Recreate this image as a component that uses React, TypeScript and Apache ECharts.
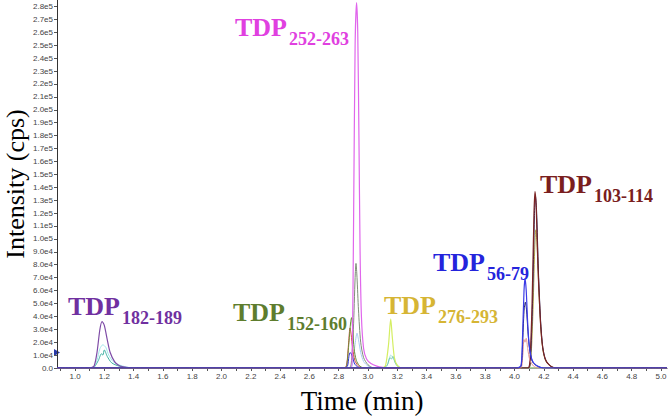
import React, { useEffect, useRef } from "react";
import * as echarts from "echarts";

// Tick values
const xTickLabels = [1.0, 1.2, 1.4, 1.6, 1.8, 2.0, 2.2, 2.4, 2.6, 2.8, 3.0, 3.2, 3.4, 3.6, 3.8, 4.0, 4.2, 4.4, 4.6, 4.8, 5.0];
const xMinorTicks = [0.9, 1.0, 1.1, 1.2, 1.3, 1.4, 1.5, 1.6, 1.7, 1.8, 1.9, 2.0, 2.1, 2.2, 2.3, 2.4, 2.5, 2.6, 2.7, 2.8, 2.9, 3.0, 3.1, 3.2, 3.3, 3.4, 3.5, 3.6, 3.7, 3.8, 3.9, 4.0, 4.1, 4.2, 4.3, 4.4, 4.5, 4.6, 4.7, 4.8, 4.9, 5.0];
const yTickValues = [0, 10000, 20000, 30000, 40000, 50000, 60000, 70000, 80000, 90000, 100000, 110000, 120000, 130000, 140000, 150000, 160000, 170000, 180000, 190000, 200000, 210000, 220000, 230000, 240000, 250000, 260000, 270000, 280000];

// Traces: [time (min), intensity (cps)]
const tdp182Purple = [[0.877, 0], [1.10, 0], [1.13, 1500], [1.15, 12000], [1.17, 30000], [1.185, 36000], [1.20, 33000], [1.22, 22000], [1.24, 12000], [1.27, 5000], [1.30, 2000], [1.35, 500], [1.40, 0], [5.041, 0]];
const tdp182Cyan = [[0.877, 0], [1.10, 0], [1.13, 1000], [1.15, 6000], [1.17, 15000], [1.19, 18000], [1.21, 16000], [1.23, 10000], [1.26, 5000], [1.30, 2500], [1.35, 800], [1.40, 0], [5.041, 0]];
const tdp182Teal = [[0.877, 0], [1.11, 0], [1.13, 500], [1.16, 6000], [1.18, 11000], [1.19, 10000], [1.20, 14000], [1.22, 9000], [1.25, 4000], [1.30, 1500], [1.38, 0], [5.041, 0]];

const tdp252Magenta = [[0.877, 0], [2.885, 0], [2.893, 15000], [2.902, 120000], [2.912, 250000], [2.922, 283000], [2.930, 260000], [2.938, 180000], [2.946, 90000], [2.955, 40000], [2.97, 15000], [2.99, 7000], [3.02, 3500], [3.06, 1500], [3.10, 500], [3.14, 0], [5.041, 0]];
const grayTrace = [[0.877, 0], [2.87, 0], [2.885, 3000], [2.90, 30000], [2.912, 70000], [2.918, 81000], [2.925, 70000], [2.935, 45000], [2.95, 20000], [2.97, 8000], [3.00, 2500], [3.04, 0], [5.041, 0]];
const tdp152Olive = [[0.877, 0], [2.84, 0], [2.855, 2000], [2.87, 20000], [2.882, 36000], [2.888, 39000], [2.895, 30000], [2.905, 15000], [2.92, 6000], [2.94, 2000], [2.97, 0], [5.041, 0]];
const redTrace = [[0.877, 0], [2.84, 0], [2.855, 3000], [2.868, 20000], [2.877, 31000], [2.885, 26000], [2.895, 15000], [2.91, 6000], [2.93, 2000], [2.96, 0], [5.041, 0]];
const lightBlueTrace = [[0.877, 0], [2.88, 0], [2.895, 3000], [2.91, 17000], [2.925, 27000], [2.935, 22000], [2.95, 12000], [2.97, 5000], [3.00, 1500], [3.04, 0], [5.041, 0]];
const smallBlueTrace = [[0.877, 0], [2.84, 0], [2.86, 1500], [2.87, 9000], [2.878, 12000], [2.886, 11000], [2.895, 8000], [2.91, 3000], [2.93, 800], [2.96, 0], [5.041, 0]];

const tdp276Yellow = [[0.877, 0], [3.10, 0], [3.12, 2000], [3.14, 18000], [3.155, 38000], [3.165, 25000], [3.18, 8000], [3.20, 2000], [3.23, 0], [5.041, 0]];
const teal276 = [[0.877, 0], [3.10, 0], [3.13, 2000], [3.15, 8000], [3.16, 7000], [3.17, 9000], [3.19, 3000], [3.22, 0], [5.041, 0]];
const lightTeal276 = [[0.877, 0], [3.11, 0], [3.135, 3000], [3.155, 10000], [3.17, 8000], [3.19, 3500], [3.23, 0], [5.041, 0]];

const tdp56Blue = [[0.877, 0], [4.02, 0], [4.045, 2000], [4.055, 25000], [4.065, 60000], [4.072, 69500], [4.08, 60000], [4.09, 35000], [4.10, 18000], [4.12, 6000], [4.15, 2000], [4.20, 0], [5.041, 0]];
const navy56 = [[0.877, 0], [4.02, 0], [4.045, 1500], [4.055, 18000], [4.065, 44000], [4.074, 51000], [4.082, 45000], [4.092, 28000], [4.105, 13000], [4.125, 4500], [4.155, 1500], [4.20, 0], [5.041, 0]];
const pink56 = [[0.877, 0], [4.04, 0], [4.055, 8000], [4.065, 22000], [4.072, 20000], [4.08, 23000], [4.09, 15000], [4.105, 6000], [4.13, 1500], [4.16, 0], [5.041, 0]];

const tdp103Brown = [[0.877, 0], [4.09, 0], [4.105, 5000], [4.12, 50000], [4.133, 120000], [4.14, 136700], [4.148, 125000], [4.16, 80000], [4.175, 40000], [4.19, 18000], [4.21, 7000], [4.24, 2000], [4.28, 0], [5.041, 0]];
const navy103 = [[0.877, 0], [4.095, 0], [4.108, 5000], [4.123, 50000], [4.136, 118000], [4.143, 133000], [4.151, 121000], [4.163, 76000], [4.178, 37000], [4.193, 16000], [4.213, 6000], [4.245, 1500], [4.28, 0], [5.041, 0]];
const olive103 = [[0.877, 0], [4.095, 0], [4.11, 4000], [4.125, 40000], [4.138, 92000], [4.145, 107000], [4.153, 97000], [4.165, 62000], [4.18, 30000], [4.195, 13000], [4.215, 5000], [4.25, 1200], [4.29, 0], [5.041, 0]];

const peakLabels = [
  { main: "TDP", sub: "182-189", color: "#7030A0" },
  { main: "TDP", sub: "252-263", color: "#E040E0" },
  { main: "TDP", sub: "152-160", color: "#5E7D2E" },
  { main: "TDP", sub: "276-293", color: "#D6B534" },
  { main: "TDP", sub: "56-79", color: "#2424DC" },
  { main: "TDP", sub: "103-114", color: "#7A1E1E" },
];
const labelAnchors = [
  [68, 293],
  [235, 14],
  [233, 299],
  [384, 292],
  [433, 249],
  [540, 171],
];

function yFmt(v: number): string {
  if (v === 0) return "0.0";
  if (v < 100000) return (v / 10000).toFixed(1) + "e4";
  return (v / 100000).toFixed(1) + "e5";
}

export default function App() {
  const ref = useRef<HTMLDivElement>(null);
  useEffect(() => {
    document.body.style.margin = "0";
    const chart = echarts.init(ref.current!, undefined, { renderer: "svg" });
    const mk = (data: number[][], color: string, width = 1) => ({
      type: "line",
      data,
      symbol: "none",
      smooth: 0.25,
      lineStyle: { color, width },
      itemStyle: { color },
      z: 2,
    });
    const series = [
      mk(tdp182Teal, "#3AAFA0"),
      mk(tdp182Cyan, "#9FE6EA"),
      mk(tdp182Purple, "#7E4BA6", 1.2),
      mk(lightBlueTrace, "#A9CBF2"),
      mk(grayTrace, "#7F8E78"),
      mk(redTrace, "#D24A3C"),
      mk(tdp152Olive, "#6B8E3A"),
      mk(smallBlueTrace, "#3434D0"),
      mk(tdp252Magenta, "#E066EC", 1.2),
      mk(lightTeal276, "#A6E6E0"),
      mk(teal276, "#6CC4AE"),
      mk(tdp276Yellow, "#D4EE62", 1.2),
      mk(olive103, "#B3A447"),
      mk(navy103, "#20205E"),
      mk(tdp103Brown, "#7C2424", 1.2),
      mk(pink56, "#E49494"),
      mk(navy56, "#22236E"),
      mk(tdp56Blue, "#3B3BE6", 1.2),
    ];
    const graphics: any[] = [];
    peakLabels.forEach((l, i) => {
      const [x, y] = labelAnchors[i];
      const mainW = 53;
      graphics.push({
        type: "text",
        x,
        y,
        style: {
          text: l.main,
          fill: l.color,
          font: "bold 26px 'Liberation Serif', 'Times New Roman', serif",
          textVerticalAlign: "top",
        },
      });
      graphics.push({
        type: "text",
        x: x + mainW + 1,
        y: y + 16,
        style: {
          text: l.sub,
          fill: l.color,
          font: "bold 18px 'Liberation Serif', 'Times New Roman', serif",
          textVerticalAlign: "top",
        },
      });
    });
    graphics.push({
      type: "text",
      x: 15,
      y: 184,
      rotation: Math.PI / 2,
      style: {
        text: "Intensity (cps)",
        fill: "#000",
        font: "26px 'Liberation Serif', 'Times New Roman', serif",
        textAlign: "center",
        textVerticalAlign: "middle",
      },
    });
    graphics.push({
      type: "polygon",
      shape: { points: [[54, 349], [60, 352.5], [54, 356]] },
      style: { fill: "#2A3AA8" },
    });
    chart.setOption({
      animation: false,
      backgroundColor: "#fff",
      grid: { left: 57, right: 2, top: 0, bottom: 50, outerBoundsMode: "none", containLabel: false },
      xAxis: {
        type: "value",
        min: 0.877,
        max: 5.041,
        name: "Time (min)",
        nameLocation: "middle",
        nameGap: 19,
        nameTextStyle: { fontFamily: "'Liberation Serif', 'Times New Roman', serif", fontSize: 27, color: "#000", verticalAlign: "top" },
        axisLine: { lineStyle: { color: "#333", width: 1 } },
        axisTick: { show: true, length: 3, customValues: xMinorTicks, lineStyle: { color: "#555" } },
        axisLabel: {
          customValues: xTickLabels,
          formatter: (v: number) => v.toFixed(1),
          fontSize: 8,
          color: "#444",
          margin: 4,
          fontFamily: "'Liberation Sans', Arial, sans-serif",
        },
        splitLine: { show: false },
      },
      yAxis: {
        type: "value",
        min: 0,
        max: 285000,
        axisLine: { show: true, lineStyle: { color: "#333", width: 1 } },
        axisTick: { show: true, length: 3, customValues: yTickValues, lineStyle: { color: "#555" } },
        axisLabel: {
          customValues: yTickValues,
          formatter: yFmt,
          fontSize: 8,
          color: "#444",
          margin: 4,
          fontFamily: "'Liberation Sans', Arial, sans-serif",
        },
        splitLine: { show: false },
      },
      series,
      graphic: graphics,
    });
    return () => chart.dispose();
  }, []);
  return <div ref={ref} style={{ width: 669, height: 418 }} />;
}
